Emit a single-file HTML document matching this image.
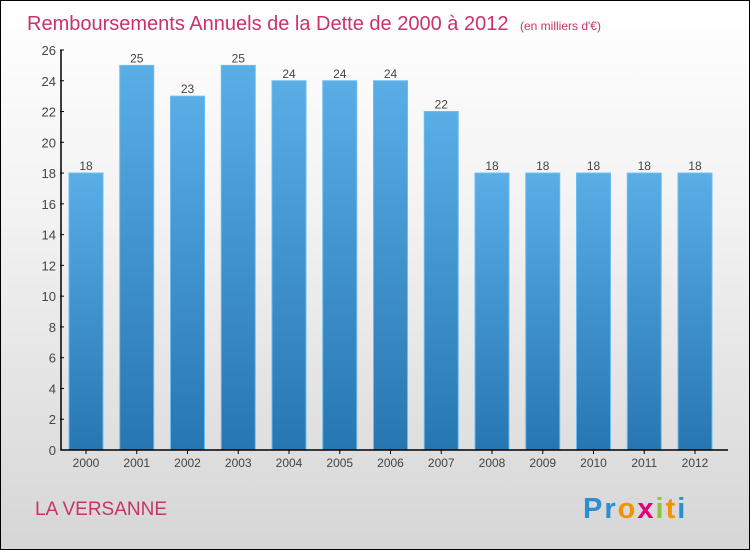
<!DOCTYPE html>
<html><head><meta charset="utf-8"><style>
body{margin:0;}
#wrap{position:relative;width:748px;height:548px;border:1px solid #000;background:linear-gradient(#fff 0%,#f2f2f2 40%,#d6d6d6 100%);font-family:"Liberation Sans",sans-serif;overflow:hidden}
</style></head><body>
<div id="wrap">
<svg id="chart" width="748" height="548">
<defs><linearGradient id="bg" x1="0" y1="0" x2="0" y2="1"><stop offset="0" stop-color="#5aaee6"/><stop offset="1" stop-color="#2676b2"/></linearGradient></defs>
<text x="26" y="29" font-size="20" fill="#c8336a">Remboursements Annuels de la Dette de 2000 à 2012 <tspan font-size="12" dx="6">(en milliers d'€)</tspan></text>
<text x="34" y="514" font-size="19" fill="#c8336a">LA VERSANNE</text>
<text x="582" y="517" font-size="29" font-weight="bold" letter-spacing="2"><tspan fill="#2a8fd0">Pr</tspan><tspan fill="#f39200">o</tspan><tspan fill="#e2007a">x</tspan><tspan fill="#8cc43f">i</tspan><tspan fill="#f39200">t</tspan><tspan fill="#2a8fd0">i</tspan></text>
<g id="plot"></g>
</svg>
</div>
<script>
const categories=["2000","2001","2002","2003","2004","2005","2006","2007","2008","2009","2010","2011","2012"];
const values=[18,25,23,25,24,24,24,22,18,18,18,18,18];
const yTicks=[0,2,4,6,8,10,12,14,16,18,20,22,24,26];
const NS="http://www.w3.org/2000/svg";
const g=document.getElementById('plot');
const y0=449,yTop=49,yMax=26;
const y=v=>y0-(v/yMax)*(y0-yTop);
const x=i=>85+i*50.75;
function mk(t,a){const e=document.createElementNS(NS,t);for(const k in a)e.setAttribute(k,a[k]);g.appendChild(e);return e;}
values.forEach((v,i)=>{
 const r=mk('rect',{x:x(i)-17,y:y(v),width:34,height:y0-y(v),fill:'url(#bg)',stroke:'#6bbcf0','stroke-width':1});
 
 
 const t=mk('text',{x:x(i),y:y(v)-3,'text-anchor':'middle','font-size':12,fill:'#444'});
 t.textContent=v;
 
 
 const c=mk('text',{x:x(i),y:466,'text-anchor':'middle','font-size':12,fill:'#444'});
 c.textContent=categories[i];
 
 
 const tk=mk('line',{x1:x(i),x2:x(i),y1:y0,y2:y0+4,stroke:'#000'});
 
 
});
yTicks.forEach(v=>{
 const t=mk('text',{x:55,y:y(v)+5,'text-anchor':'end','font-size':13,fill:'#444'});
 t.textContent=v;
 
 
 const l=mk('line',{x1:59,x2:63,y1:y(v),y2:y(v),stroke:'#000'});
 
 
});
const ya=mk('line',{x1:60,x2:60,y1:yTop,y2:y0,stroke:'#000','stroke-width':1.5});


const xa=mk('line',{x1:60,x2:727,y1:y0,y2:y0,stroke:'#000','stroke-width':1.5});


</script>
</body></html>
